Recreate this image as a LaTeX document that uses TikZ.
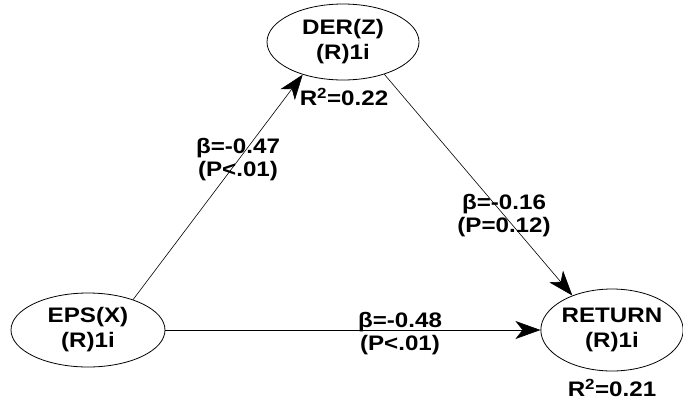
\documentclass[tikz,border=0pt]{standalone}
\usepackage{fontspec}
\setmainfont[FakeStretch=1.15]{Liberation Sans}
\usetikzlibrary{arrows.meta,shapes.geometric}
\begin{document}
\begin{tikzpicture}[x=1pt,y=-1pt,
  lv/.style={draw,ellipse,line width=0.8pt,inner sep=0pt,align=center,
    font=\fontsize{21}{25}\selectfont\bfseries},
  lab/.style={align=center,inner sep=0pt,font=\fontsize{21}{23}\selectfont\bfseries},
  pth/.style={line width=0.6pt,-{Stealth[length=25pt,width=18pt,inset=7pt]}}]
\useasboundingbox (0,0) rectangle (683,405);
\node[lv,minimum width=152pt,minimum height=76pt] (der) at (343,42) {DER(Z)\\(R)1i};
\node[lv,minimum width=154pt,minimum height=74pt] (eps) at (88,330) {EPS(X)\\(R)1i};
\node[lv,minimum width=142pt,minimum height=82pt] (ret) at (612,330) {RETURN\\(R)1i};
\draw[pth] (eps.34) -- (der.219);
\draw[pth] (der.322) -- (ret.139);
\draw[pth] (eps.east) -- (ret.west);
\node[lab] (l1) at (238,160) {β=-0.47\\{(P<.01)}};
\node[lab] (l2) at (504,216) {β=-0.16\\{(P=0.12)}};
\node[lab] (l3) at (400,334) {β=-0.48\\{(P<.01)}};
\node[lab] (r1) at (344,97) {R\textsuperscript{2}=0.22};
\node[lab] (r2) at (612,388) {R\textsuperscript{2}=0.21};
\end{tikzpicture}
\end{document}
